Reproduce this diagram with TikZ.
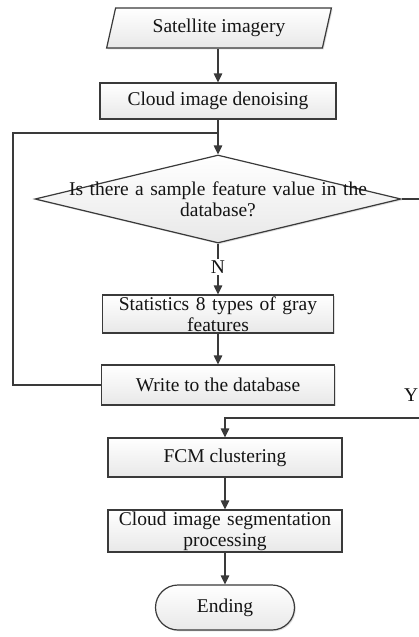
\documentclass[tikz,border=0pt]{standalone}
\usepackage{fontspec}
\setmainfont{Liberation Serif}
\usetikzlibrary{arrows.meta,shapes.geometric,shapes.misc,shadows}
\definecolor{linec}{HTML}{3A3A3A}
\begin{document}
\begin{tikzpicture}[x=1pt,y=-1pt,
  every node/.style={font=\fontsize{19.5}{21}\selectfont, text=black!92},
  boxbase/.style={draw=linec, line width=1.2pt, top color=white, bottom color=black!9,
    drop shadow={shadow xshift=1.3pt, shadow yshift=-1.3pt, opacity=0.25}},
  procbox/.style={boxbase, rectangle, inner sep=0pt, minimum height=37pt, align=center},
  conn/.style={draw=linec, line width=1.2pt},
  arr/.style={conn, -{Triangle[length=9pt,width=8.5pt]}}]
\useasboundingbox (0,0) rectangle (419,637);
\clip (0,0) rectangle (419,637);
\fill[white] (0,0) rectangle (419,637);

% nodes
\node[boxbase, trapezium, trapezium left angle=72, trapezium right angle=108,
      trapezium stretches=true, minimum width=225pt, minimum height=40pt, inner sep=0pt]
      (sat) at (219,28) {Satellite imagery};
\node[procbox, minimum width=236pt, minimum height=36pt] (den) at (218,101) {Cloud image denoising};
\node[boxbase, diamond, minimum width=366pt, minimum height=88pt, inner sep=0pt] (dia) at (218,199) {};
\node[align=center, text width=330pt, inner sep=0pt] (diat) at (dia.center)
     {Is there a sample feature value in the\\database?};
\node[fill=white, inner sep=1.5pt] (nlab) at (218,267) {N};
\node[procbox, minimum width=231pt, minimum height=38pt, text width=228pt] (sta) at (218,314)
     {Statistics 8 types of gray\\features};
\node[procbox, minimum width=233pt, minimum height=40pt] (wr) at (218,385) {Write to the database};
\node[anchor=east, inner sep=0pt] (ylab) at (418.5,395) {Y};
\node[procbox, minimum width=234pt, minimum height=39pt] (fcm) at (225,457.5) {FCM clustering};
\node[procbox, minimum width=234pt, minimum height=42pt, text width=232pt] (seg) at (225,531)
     {Cloud image segmentation\\processing};
\node[boxbase, rounded rectangle, minimum width=139pt, minimum height=45pt, inner sep=0pt]
     (end) at (225,607.5) {Ending};

% helper coordinates
\coordinate (j1) at (218,133);
\coordinate (lb) at (13,385);
\coordinate (ra) at (425,199);
\coordinate (rb) at (425,418);

% connectors
\draw[arr] (sat.south -| den.north) -- (den.north);
\draw[arr] (den.south) -- (dia.north);
\draw[conn] (wr.west) -- (lb) |- (j1);
\draw[conn] (dia.east) -- (ra);
\draw[conn] (dia.south) -- (nlab.north);
\draw[arr] (nlab.south) -- (sta.north);
\draw[arr] (sta.south) -- (wr.north);
\draw[arr] (rb) -| (fcm.north);
\draw[arr] (fcm.south) -- (seg.north);
\draw[arr] (seg.south) -- (end.north);
\end{tikzpicture}
\end{document}
